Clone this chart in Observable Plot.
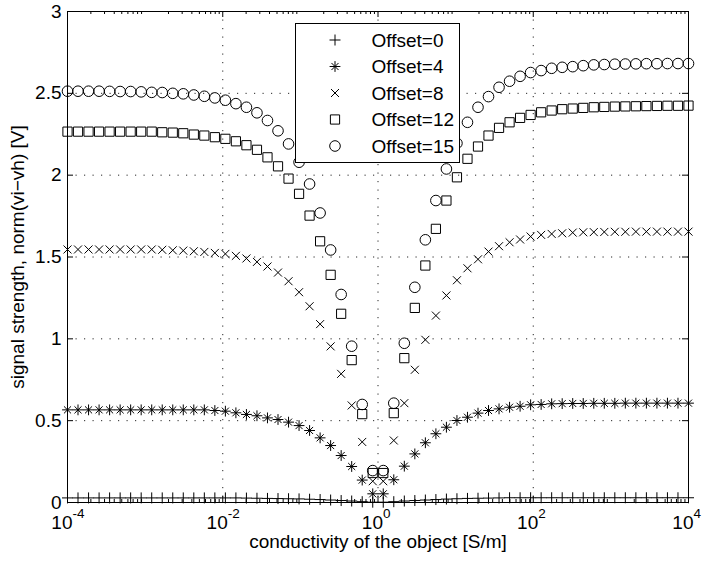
<!DOCTYPE html>
<html>
<head>
<meta charset="utf-8">
<script src="https://cdn.jsdelivr.net/npm/d3@7"></script>
<script src="https://cdn.jsdelivr.net/npm/@observablehq/plot@0.6"></script>
<style>
  html, body { margin: 0; padding: 0; background: #fff; }
  #wrap { position: relative; width: 703px; height: 561px; }
  #legend { position: absolute; left: 295px; top: 23px; overflow: visible; }
</style>
</head>
<body>
<div id="wrap"></div>
<script>
// conductivity of the object [S/m] (60 log-spaced samples, 1e-4 .. 1e4)
const conductivity = [
  1.000e-4, 1.366e-4, 1.867e-4, 2.552e-4, 3.486e-4, 4.764e-4, 6.510e-4, 8.896e-4,
  1.216e-3, 1.661e-3, 2.270e-3, 3.101e-3, 4.238e-3, 5.791e-3, 7.913e-3,
  1.081e-2, 1.477e-2, 2.019e-2, 2.759e-2, 3.769e-2, 5.151e-2, 7.039e-2, 9.618e-2,
  1.314e-1, 1.796e-1, 2.454e-1, 3.353e-1, 4.582e-1, 6.261e-1, 8.555e-1,
  1.169, 1.597, 2.183, 2.982, 4.075, 5.569, 7.610,
  10.40, 14.21, 19.42, 26.53, 36.25, 49.54, 67.69, 92.49,
  126.4, 172.7, 236.0, 322.4, 440.6, 602.1, 822.7,
  1124, 1536, 2099, 2868, 3919, 5356, 7319, 10000
];

// signal strength, norm(vi-vh) [V]
const offset0 = [
  0.028,0.028,0.028,0.028,0.028,0.028,0.028,0.028,0.028,0.028,
  0.028,0.028,0.028,0.028,0.028,0.028,0.028,0.027,0.026,0.025,
  0.024,0.023,0.022,0.020,0.018,0.015,0.012,0.009,0.005,0.002,
  0.002,0.005,0.009,0.012,0.015,0.018,0.021,0.023,0.025,0.026,
  0.027,0.028,0.029,0.029,0.029,0.029,0.029,0.029,0.029,0.029,
  0.029,0.029,0.029,0.029,0.029,0.029,0.029,0.029,0.029,0.029
];
const offset4 = [
  0.566,0.566,0.566,0.566,0.566,0.566,0.566,0.566,0.566,0.566,
  0.566,0.566,0.566,0.566,0.562,0.558,0.548,0.538,0.530,0.517,
  0.507,0.491,0.470,0.440,0.395,0.348,0.287,0.220,0.137,0.053,
  0.053,0.139,0.222,0.297,0.365,0.420,0.460,0.501,0.521,0.546,
  0.562,0.572,0.582,0.588,0.597,0.599,0.603,0.604,0.605,0.605,
  0.606,0.606,0.606,0.607,0.607,0.607,0.607,0.607,0.607,0.607
];
const offset8 = [
  1.546,1.546,1.546,1.546,1.546,1.546,1.546,1.546,1.546,1.544,
  1.541,1.539,1.535,1.531,1.525,1.519,1.507,1.491,1.470,1.442,
  1.405,1.352,1.285,1.199,1.090,0.954,0.786,0.593,0.370,0.130,
  0.130,0.379,0.607,0.811,0.994,1.142,1.265,1.358,1.431,1.486,
  1.533,1.566,1.590,1.607,1.625,1.635,1.641,1.645,1.649,1.651,
  1.652,1.653,1.654,1.654,1.655,1.655,1.655,1.655,1.655,1.655
];
const offset12 = [
  2.266,2.266,2.266,2.266,2.266,2.266,2.266,2.266,2.266,2.262,
  2.260,2.256,2.248,2.242,2.232,2.222,2.207,2.183,2.155,2.109,
  2.054,1.979,1.886,1.753,1.596,1.391,1.153,0.870,0.540,0.180,
  0.180,0.546,0.882,1.189,1.448,1.672,1.845,1.987,2.100,2.175,
  2.242,2.289,2.323,2.350,2.368,2.384,2.395,2.403,2.407,2.411,
  2.415,2.417,2.419,2.420,2.421,2.422,2.423,2.424,2.424,2.425
];
const offset15 = [
  2.513,2.513,2.513,2.513,2.512,2.511,2.511,2.509,2.506,2.505,
  2.500,2.497,2.490,2.482,2.472,2.458,2.437,2.415,2.381,2.334,
  2.271,2.191,2.079,1.946,1.769,1.543,1.271,0.955,0.599,0.195,
  0.195,0.607,0.973,1.315,1.605,1.845,2.038,2.195,2.323,2.415,
  2.480,2.537,2.574,2.604,2.627,2.639,2.653,2.659,2.663,2.669,
  2.674,2.676,2.678,2.679,2.680,2.681,2.681,2.682,2.682,2.682
];

const seriesNames = ["Offset=0", "Offset=4", "Offset=8", "Offset=12", "Offset=15"];
const seriesValues = [offset0, offset4, offset8, offset12, offset15];

const xTickValues = [1e-4, 1e-2, 1, 1e2, 1e4];
const xTickExponents = ["-4", "-2", "0", "2", "4"];
const yTickValues = [0, 0.5, 1, 1.5, 2, 2.5, 3];
const yTickLabels = ["0", "0.5", "1", "1.5", "2", "2.5", "3"];
const xLabel = "conductivity of the object [S/m]";
const yLabel = "signal strength, norm(vi\u2212vh) [V]";

// ---- presentation ----
const W = 703, H = 561;
const M = {top: 11, right: 15, bottom: 59, left: 67};
const FW = W - M.left - M.right, FH = H - M.top - M.bottom;
const FONT = "'Liberation Sans', Arial, Helvetica, sans-serif";
const FS = 19, FS_SUP = 13.5;

// MATLAB-like marker shapes (fixed pixel geometry)
const SQ3 = Math.SQRT1_2;
const plusSym = {draw(c) { const h = 5.5; c.moveTo(-h, 0); c.lineTo(h, 0); c.moveTo(0, -h); c.lineTo(0, h); }};
const asteriskSym = {draw(c) {
  const h = 5.4, d = 5.0 * SQ3;
  c.moveTo(-h, 0); c.lineTo(h, 0); c.moveTo(0, -h); c.lineTo(0, h);
  c.moveTo(-d, -d); c.lineTo(d, d); c.moveTo(-d, d); c.lineTo(d, -d);
}};
const timesSym = {draw(c) { const h = 4; c.moveTo(-h, -h); c.lineTo(h, h); c.moveTo(-h, h); c.lineTo(h, -h); }};
const squareSym = {draw(c) { const h = 4.6; c.moveTo(-h, -h); c.lineTo(h, -h); c.lineTo(h, h); c.lineTo(-h, h); c.closePath(); }};
const circleSym = {draw(c) { const r = 5.3; c.moveTo(r, 0); c.arc(0, 0, r, 0, 2 * Math.PI); c.closePath(); }};
const markerSymbols = [plusSym, asteriskSym, timesSym, squareSym, circleSym];

// minor log ticks
const minorTicks = [];
for (let e = -4; e < 4; e++) for (let k = 2; k <= 9; k++) minorTicks.push(k * Math.pow(10, e));

const gridStyle = {stroke: "#000", strokeWidth: 1, strokeDasharray: "1.2,7.3", strokeOpacity: 0.85};

const marks = [
  Plot.ruleX(xTickValues.slice(1, -1), {x: d => d, ...gridStyle}),
  Plot.ruleY(yTickValues.slice(1, -1), {y: d => d, ...gridStyle}),
  // inward ticks
  Plot.tickX(xTickValues, {x: d => d, insetTop: FH - 6, stroke: "#000"}),
  Plot.tickX(xTickValues, {x: d => d, insetBottom: FH - 6, stroke: "#000"}),
  Plot.tickX(minorTicks, {x: d => d, insetTop: FH - 3, stroke: "#000"}),
  Plot.tickX(minorTicks, {x: d => d, insetBottom: FH - 3, stroke: "#000"}),
  Plot.tickY(yTickValues, {y: d => d, insetRight: FW - 6, stroke: "#000"}),
  Plot.tickY(yTickValues, {y: d => d, insetLeft: FW - 6, stroke: "#000"}),
  Plot.frame({stroke: "#000", strokeWidth: 1}),
  // x tick labels 10^n
  Plot.text(xTickValues, {x: d => d, text: () => "10", frameAnchor: "bottom", lineAnchor: "middle", textAnchor: "end", dx: 5, dy: 20, fontSize: FS}),
  Plot.text(xTickValues, {x: d => d, text: (d, i) => xTickExponents[i], frameAnchor: "bottom", lineAnchor: "middle", textAnchor: "start", dx: 5, dy: 11.5, fontSize: FS_SUP}),
  // y tick labels
  Plot.text(yTickValues, {y: d => d, text: (d, i) => yTickLabels[i], frameAnchor: "left", lineAnchor: "middle", textAnchor: "end", dx: -6, fontSize: FS}),
  // axis labels
  Plot.text([xLabel], {text: d => d, frameAnchor: "bottom", lineAnchor: "middle", textAnchor: "middle", dy: 39.5, fontSize: FS}),
  Plot.text([yLabel], {text: d => d, frameAnchor: "left", lineAnchor: "middle", textAnchor: "middle", rotate: -90, dx: -50, fontSize: FS})
];

seriesValues.forEach((vals, s) => {
  marks.push(Plot.dot(conductivity, {
    x: conductivity,
    y: vals,
    symbol: markerSymbols[s],
    r: 5,
    stroke: "#000",
    fill: "none",
    strokeWidth: 1
  }));
});

const chart = Plot.plot({
  width: W,
  height: H,
  marginTop: M.top,
  marginRight: M.right,
  marginBottom: M.bottom,
  marginLeft: M.left,
  style: {fontFamily: FONT, fontSize: FS + "px", background: "#fff", color: "#000", overflow: "visible"},
  x: {type: "log", domain: [1e-4, 1e4], axis: null},
  y: {type: "linear", domain: [0, 3], axis: null},
  marks
});

const wrap = document.getElementById("wrap");
wrap.appendChild(chart);

// Legend (inside the axes, opaque, like the original)
const LW = 165, LH = 140;
const lg = d3.create("svg")
  .attr("id", "legend")
  .attr("width", LW + 1).attr("height", LH + 1)
  .style("font-family", FONT).style("font-size", FS + "px").style("font-weight", "400");
lg.append("rect")
  .attr("x", 0.5).attr("y", 0.5).attr("width", LW - 1).attr("height", LH - 1)
  .attr("fill", "#fff").attr("stroke", "#000").attr("stroke-width", 1);
seriesNames.forEach((name, s) => {
  const cy = 17 + s * 26.5;
  lg.append("path")
    .attr("transform", `translate(40,${cy})`)
    .attr("d", d3.symbol(markerSymbols[s], 64)())
    .attr("fill", "none").attr("stroke", "#000").attr("stroke-width", 1);
  lg.append("text")
    .attr("x", 76.5).attr("y", cy).attr("dy", "0.35em")
    .attr("fill", "#000")
    .text(name);
});
wrap.appendChild(lg.node());
</script>
</body>
</html>
